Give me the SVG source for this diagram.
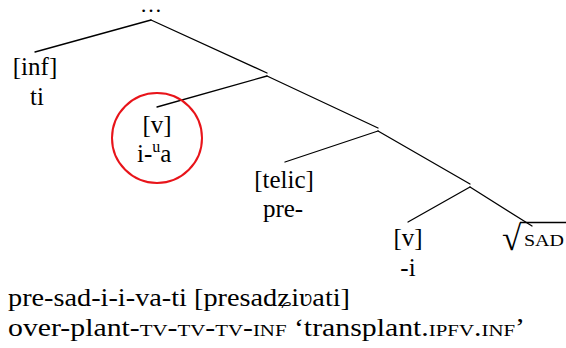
<svg xmlns="http://www.w3.org/2000/svg" width="566" height="348" viewBox="0 0 566 348">
<style>
text{font-size:25px;fill:#000;font-family:"Liberation Serif","Times New Roman",serif}
.m{text-anchor:middle}
.sc{font-size:17.5px}
.e line{stroke:#000;stroke-width:1.3;stroke-linecap:round}
</style>
<rect width="566" height="348" fill="#fff"/>
<g class="e" id="connectors">
<line x1="151" y1="20" x2="35" y2="52"/>
<line x1="151" y1="20" x2="267" y2="73"/>
<line x1="267" y1="76" x2="157" y2="107"/>
<line x1="267" y1="76" x2="378" y2="128"/>
<line x1="378" y1="131" x2="285" y2="162"/>
<line x1="378" y1="131" x2="470" y2="184"/>
<line x1="470" y1="187" x2="408" y2="222"/>
<line x1="470" y1="187" x2="532" y2="226"/>
</g>
<g id="root"><text class="m" x="151" y="12" style="font-size:22px">…</text></g>
<g id="inf"><text class="m" x="35" y="75">[inf]</text><text class="m" x="37" y="105">ti</text></g>
<g id="v1">
<circle cx="157" cy="138" r="45" fill="none" stroke="#e8141a" stroke-width="2"/>
<text class="m" x="157" y="133">[v]</text>
<text x="137" y="162">i-<tspan dy="-10" style="font-size:16px">u</tspan><tspan dy="10">a</tspan></text>
</g>
<g id="telic"><text class="m" x="284" y="188">[telic]</text><text class="m" x="283" y="217">pre-</text></g>
<g id="v2"><text class="m" x="408" y="246">[v]</text><text class="m" x="408" y="276">-i</text></g>
<g id="root-sad">
<text x="502" y="250" style="font-size:35px">√</text>
<line x1="520" y1="222.5" x2="566" y2="222.5" stroke="#000" stroke-width="1.3"/>
<text x="524" y="246" class="sc" textLength="40" lengthAdjust="spacingAndGlyphs">SAD</text>
</g>
<g id="gloss">
<text x="8" y="306" textLength="342" lengthAdjust="spacingAndGlyphs">pre-sad-i-i-va-ti [presadʑiʋati]</text>
<text x="8" y="336" textLength="517" lengthAdjust="spacingAndGlyphs">over-plant-<tspan class="sc">TV</tspan>-<tspan class="sc">TV</tspan>-<tspan class="sc">TV</tspan>-<tspan class="sc">INF</tspan> ‘transplant.<tspan class="sc">IPFV</tspan>.<tspan class="sc">INF</tspan>’</text>
</g>
</svg>
